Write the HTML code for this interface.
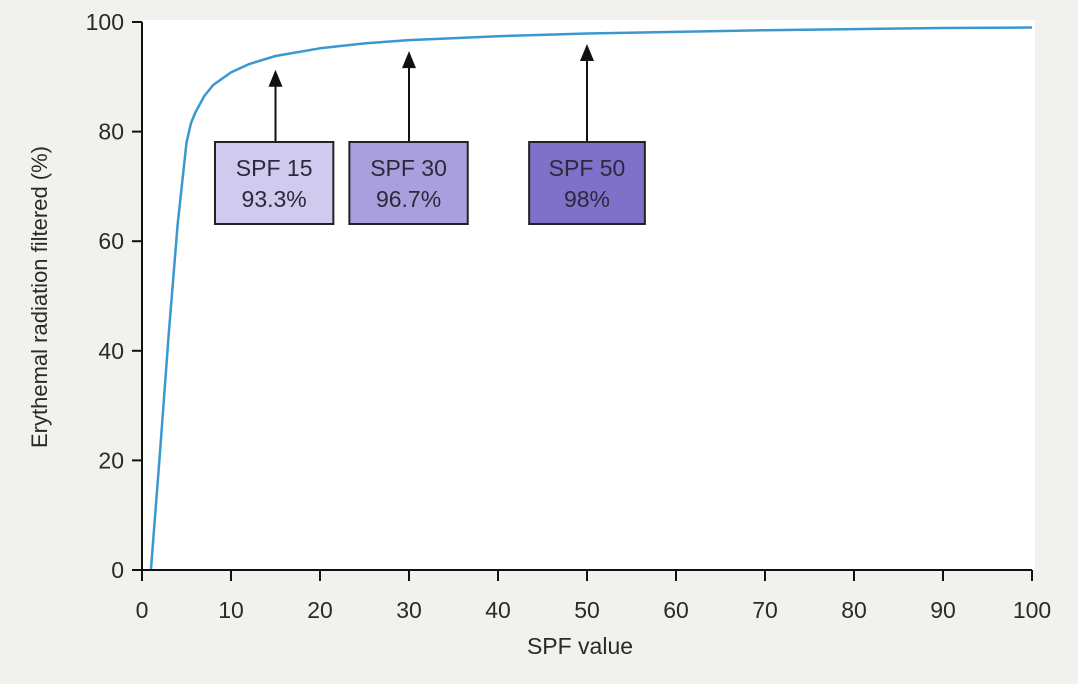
<!DOCTYPE html>
<html><head><meta charset="utf-8"><style>
html,body{margin:0;padding:0;background:#f1f1ed;}
svg{display:block;font-family:"Liberation Sans",sans-serif;}
</style></head><body>
<svg id="chart" width="1078" height="684"></svg>
<script>
const spfValues=[1,2,3,4,5,5.5,6,7,8,10,12,15,20,25,30,40,50,60,70,80,90,100];
const filteredPct=[0,21,43,63,78,81.5,83.5,86.5,88.5,90.8,92.3,93.8,95.2,96.1,96.7,97.4,97.9,98.2,98.5,98.7,98.9,99];
const xTicks=[0,10,20,30,40,50,60,70,80,90,100];
const yTicks=[0,20,40,60,80,100];
const annSpf=[15,30,50];
const annTop=[93.3,96.7,98];
const annLabel=["SPF 15","SPF 30","SPF 50"];
const annPct=["93.3%","96.7%","98%"];
const annFill=["#cfcaee","#a99fdd","#7f71c9"];
const annLeft=[8.2,23.3,43.5];
const annWidth=[13.3,13.3,13];

const NS="http://www.w3.org/2000/svg";
const svg=document.getElementById('chart');
const X0=142,X1=1032,Y0=570,Y1=22;
const x=v=>X0+(v/100)*(X1-X0);
const y=v=>Y0-(v/100)*(Y0-Y1);
function mk(t,a,p){const e=document.createElementNS(NS,t);for(const k in a)e.setAttribute(k,a[k]);(p||svg).appendChild(e);return e;}

const bg=mk('rect',{x:X0,y:20,width:893,height:Y0-20,fill:'#ffffff'});



let d='';
spfValues.forEach((v,i)=>{d+=(i?'L':'M')+x(v).toFixed(1)+','+y(filteredPct[i]).toFixed(1);});
const line=mk('path',{d:d,fill:'none',stroke:'#3a98cf','stroke-width':2.5,'stroke-linejoin':'round'});



const ax=mk('line',{x1:X0,y1:Y0,x2:X1,y2:Y0,stroke:'#111','stroke-width':2});


const ay=mk('line',{x1:X0,y1:Y0,x2:X0,y2:Y1,stroke:'#111','stroke-width':2});



xTicks.forEach(t=>{
  const tk=mk('line',{x1:x(t),y1:Y0,x2:x(t),y2:Y0+11,stroke:'#111','stroke-width':2});
  
  
  const tl=mk('text',{x:x(t),y:618,'text-anchor':'middle','font-size':23,fill:'#2a2a2a'});
  tl.textContent=t;
  
  
});
yTicks.forEach(t=>{
  const tk=mk('line',{x1:X0-10,y1:y(t),x2:X0,y2:y(t),stroke:'#111','stroke-width':2});
  
  
  const tl=mk('text',{x:X0-18,y:y(t)+8,'text-anchor':'end','font-size':23,fill:'#2a2a2a'});
  tl.textContent=t;
  
  
});
const xt=mk('text',{x:580,y:654,'text-anchor':'middle','font-size':23,fill:'#2a2a2a'});
xt.textContent='SPF value';


const yt=mk('text',{x:0,y:0,'text-anchor':'middle','font-size':22,fill:'#2a2a2a',transform:'translate(47,297) rotate(-90)'});
yt.textContent='Erythemal radiation filtered (%)';



annSpf.forEach((s,i)=>{
  const g=mk('g',{});
  
  
  const ax_=x(s), tip=y(annTop[i])+11;
  mk('line',{x1:ax_,y1:142,x2:ax_,y2:tip+12,stroke:'#111','stroke-width':2},g);
  mk('polygon',{points:`${ax_-7},${tip+17} ${ax_},${tip} ${ax_+7},${tip+17}`,fill:'#111'},g);
  const bx=x(annLeft[i]), bw=annWidth[i]/100*(X1-X0);
  mk('rect',{x:bx,y:142,width:bw,height:82,fill:annFill[i],stroke:'#222','stroke-width':2},g);
  const t1=mk('text',{x:bx+bw/2,y:176,'text-anchor':'middle','font-size':23,fill:'#2a2a3a'},g);
  t1.textContent=annLabel[i];
  const t2=mk('text',{x:bx+bw/2,y:207,'text-anchor':'middle','font-size':23,fill:'#2a2a3a'},g);
  t2.textContent=annPct[i];
});
</script>
</body></html>
